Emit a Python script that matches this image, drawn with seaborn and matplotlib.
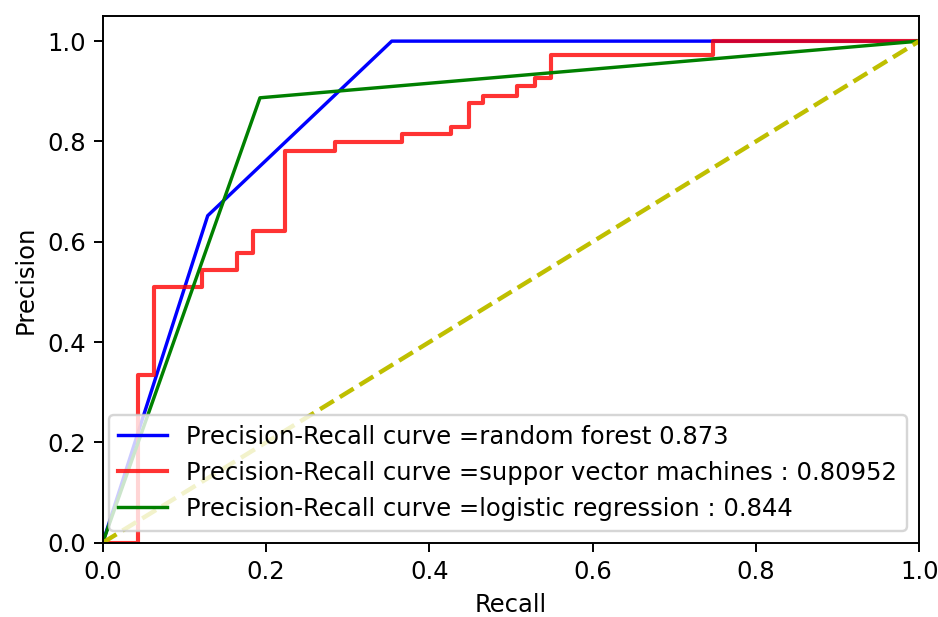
import matplotlib
matplotlib.use('Agg')
import matplotlib.pyplot as plt
import seaborn as sns

# curve points (recall, precision)
rf_recall = [0.0, 0.1286, 0.354, 1.0]
rf_precision = [0.0, 0.652, 1.0, 1.0]

svm_recall = [0.0, 0.0429, 0.0628, 0.122, 0.164, 0.184, 0.223, 0.285, 0.366,
              0.427, 0.448, 0.466, 0.507, 0.529, 0.549, 0.748, 1.0]
svm_precision = [0.0, 0.335, 0.509, 0.544, 0.577, 0.622, 0.780, 0.799, 0.814,
                 0.829, 0.877, 0.890, 0.911, 0.927, 0.972, 1.0, 1.0]

lr_recall = [0.0, 0.1926, 1.0]
lr_precision = [0.0, 0.887, 1.0]

diag_x = [0.0, 1.0]
diag_y = [0.0, 1.0]

labels = ['Precision-Recall curve =random forest 0.873',
          'Precision-Recall curve =suppor vector machines : 0.80952',
          'Precision-Recall curve =logistic regression : 0.844']

# 그림 크기 설정
dpi = 175
fig = plt.figure(figsize=(938 / dpi, 617 / dpi), dpi=dpi)
ax = fig.add_axes([0.1095, 0.1204, 0.8705, 0.8536])

sns.lineplot(x=rf_recall, y=rf_precision, color='b', lw=1.4,
             sort=False, estimator=None, legend=False, ax=ax)
sns.lineplot(x=svm_recall, y=svm_precision, color='r', alpha=0.8, lw=1.7,
             drawstyle='steps-post', sort=False, estimator=None, legend=False, ax=ax)
sns.lineplot(x=lr_recall, y=lr_precision, color='g', lw=1.4,
             sort=False, estimator=None, legend=False, ax=ax)
sns.lineplot(x=diag_x, y=diag_y, color='y', lw=1.8, linestyle='--',
             sort=False, estimator=None, legend=False, ax=ax)

ax.set_xlim(0.0, 1.0)
ax.set_ylim(0.0, 1.05)
ax.set_xlabel('Recall')
ax.set_ylabel('Precision')
ax.legend(ax.lines[:3], labels, loc='lower right')

fig.savefig('out.png', dpi=dpi)
